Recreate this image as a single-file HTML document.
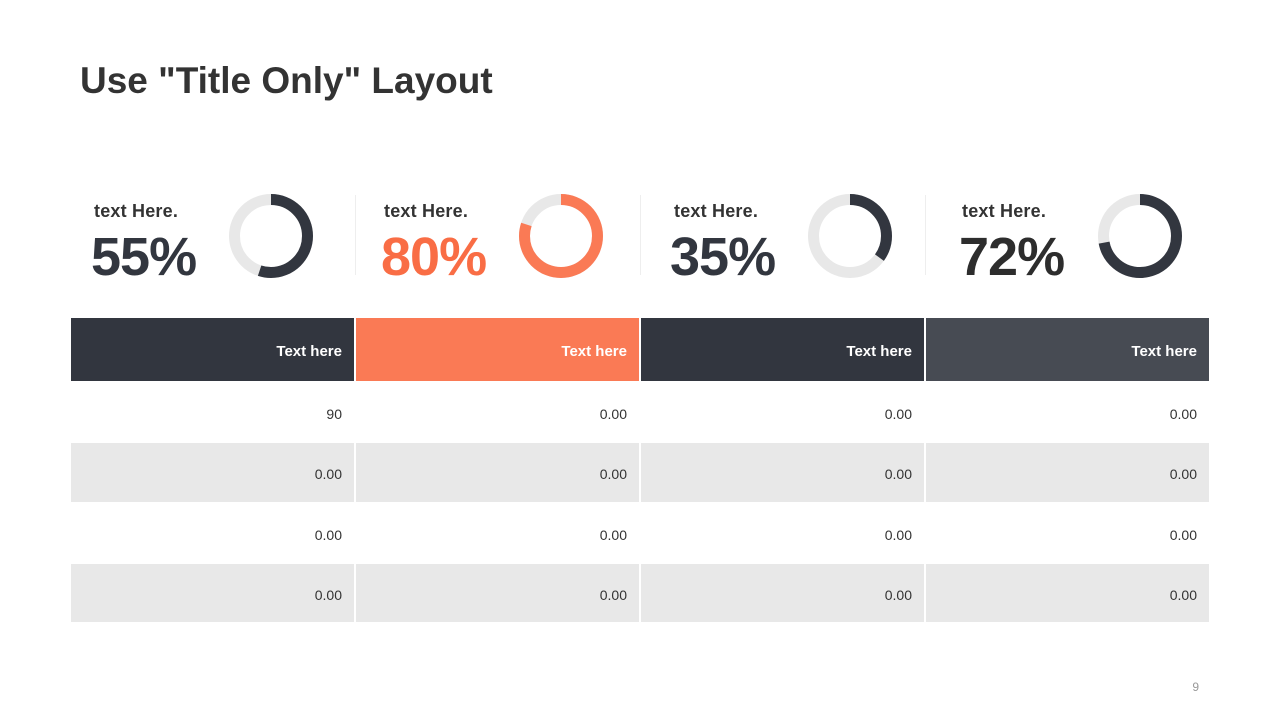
<!DOCTYPE html>
<html><head><style>
body{margin:0;width:1280px;height:720px;background:#fff;font-family:"Liberation Sans",Arial,sans-serif;position:relative;overflow:hidden}
.a{position:absolute}
.t{left:80px;top:60px;font-size:37px;font-weight:bold;color:#333}
.lab{font-size:18px;font-weight:bold;color:#333;letter-spacing:0.2px}
.num{font-size:54px;font-weight:bold;color:#32363f;letter-spacing:-1px}
.sep{width:1px;height:80px;top:195px;background:#eee}
table{position:absolute;left:71px;top:318px;border-collapse:collapse;width:1138px}
td{width:284.5px;text-align:right;padding:3px 12px 0 0;font-size:14px;color:#333;border-left:2px solid #fff}
td:first-child{border-left:none}
tr.h td{height:60px;color:#fff;font-weight:bold;font-size:15px}
tr.g td{background:#e8e8e8}
</style></head><body>
<div class="a t">Use "Title Only" Layout</div>

<div class="a lab" style="left:94px;top:201px">text Here.</div>
<div class="a num" style="left:91px;top:226px">55%</div>
<div class="a lab" style="left:384px;top:201px">text Here.</div>
<div class="a num" style="left:381px;top:226px;color:#f96d45">80%</div>
<div class="a lab" style="left:674px;top:201px">text Here.</div>
<div class="a num" style="left:670px;top:226px">35%</div>
<div class="a lab" style="left:962px;top:201px">text Here.</div>
<div class="a num" style="left:959px;top:226px;color:#2d2d2d">72%</div>
<div class="a sep" style="left:355px"></div>
<div class="a sep" style="left:640px"></div>
<div class="a sep" style="left:925px"></div>

<svg class="a" style="left:0;top:0" width="1280" height="720">
<g fill="none" stroke-width="11" transform="rotate(-90)">
<circle cx="-236" cy="271" r="36.5" stroke="#e8e8e8"/>
<circle cx="-236" cy="271" r="36.5" stroke="#32363f" stroke-dasharray="126.1 229.3"/>
<circle cx="-236" cy="561" r="36.5" stroke="#e8e8e8"/>
<circle cx="-236" cy="561" r="36.5" stroke="#fa7a55" stroke-dasharray="183.5 229.3"/>
<circle cx="-236" cy="850" r="36.5" stroke="#e8e8e8"/>
<circle cx="-236" cy="850" r="36.5" stroke="#32363f" stroke-dasharray="80.3 229.3"/>
<circle cx="-236" cy="1140" r="36.5" stroke="#e8e8e8"/>
<circle cx="-236" cy="1140" r="36.5" stroke="#32363f" stroke-dasharray="165.1 229.3"/>
</g>
<text x="1199" y="691" font-size="12" fill="#999" text-anchor="end" font-family="Liberation Sans">9</text>
</svg>

<table>
<tr class="h"><td style="background:#32363f">Text here</td><td style="background:#fa7a55">Text here</td><td style="background:#32363f">Text here</td><td style="background:#474b53">Text here</td></tr>
<tr><td style="height:59px">90</td><td>0.00</td><td>0.00</td><td>0.00</td></tr>
<tr class="g"><td style="height:56px">0.00</td><td>0.00</td><td>0.00</td><td>0.00</td></tr>
<tr><td style="height:59px">0.00</td><td>0.00</td><td>0.00</td><td>0.00</td></tr>
<tr class="g"><td style="height:55px">0.00</td><td>0.00</td><td>0.00</td><td>0.00</td></tr>
</table>
</body></html>
